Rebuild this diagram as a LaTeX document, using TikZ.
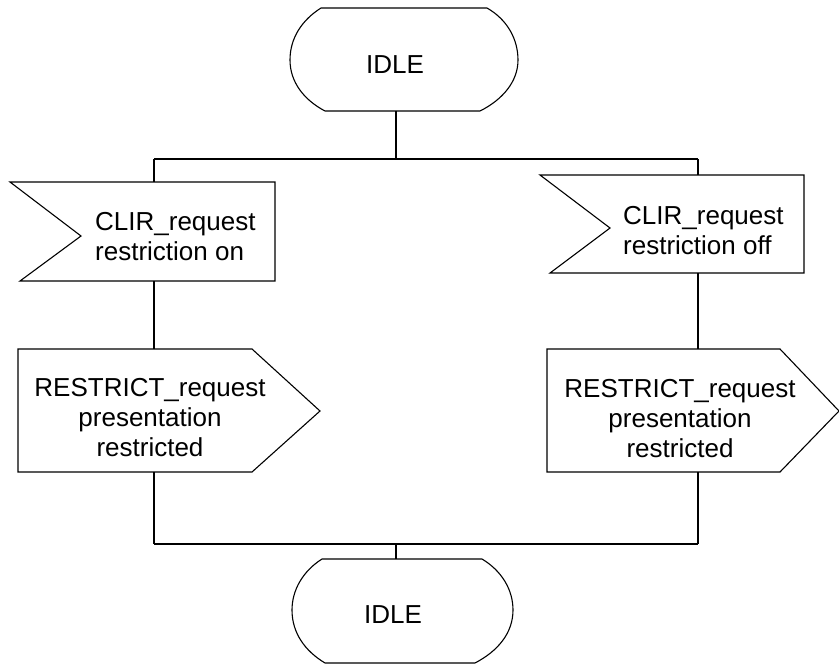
\documentclass[tikz,border=0pt]{standalone}
\usepackage{fontspec}
\setmainfont{Liberation Sans}
\begin{document}
\begin{tikzpicture}[x=1pt,y=-1pt,
    outline/.style={draw=black,line width=1.1pt,line join=miter},
    wire/.style={draw=black,line width=1.1pt},
    lbl/.style={inner sep=0pt,font=\fontsize{26}{30}\selectfont}]
\useasboundingbox (0,0) rectangle (839,664);

% ---- state symbols ----
\draw[outline] (321,8) -- (487,8)
   .. controls (508,20) and (518,40) .. (518,60)
   .. controls (518,82) and (502,100) .. (480,111)
   -- (325,111)
   .. controls (304,100) and (290,82) .. (290,60)
   .. controls (290,38) and (302,20) .. (321,8) -- cycle;
\node[lbl] (idleA) at (395,65) {IDLE};

\draw[outline] (322,559) -- (482,559)
   .. controls (502,571) and (513,590) .. (513,610)
   .. controls (513,633) and (498,651) .. (475,663)
   -- (325,663)
   .. controls (305,651) and (292,633) .. (292,610)
   .. controls (292,590) and (303,571) .. (322,559) -- cycle;
\node[lbl] (idleB) at (393,615) {IDLE};

% ---- input signals ----
\draw[outline] (10,182) -- (275,182) -- (275,281) -- (20,281) -- (81,236) -- cycle;
\node[lbl,anchor=west,align=left] (inOn) at (95,237) {CLIR\_request\\restriction on};

\draw[outline] (540,175) -- (804,175) -- (804,273) -- (550,273) -- (610,228) -- cycle;
\node[lbl,anchor=west,align=left] (inOff) at (623,231) {CLIR\_request\\restriction off};

% ---- output signals ----
\draw[outline] (18,349) -- (252,349) -- (320,411) -- (252,472) -- (18,472) -- cycle;
\node[lbl,align=center] (outL) at (150,418) {RESTRICT\_request\\presentation\\restricted};

\draw[outline] (547,349) -- (780,349) -- (839,411) -- (780,472) -- (547,472) -- cycle;
\node[lbl,align=center] (outR) at (680,419) {RESTRICT\_request\\presentation\\restricted};

% ---- connection points ----
\coordinate (idleAs) at (396,111);
\coordinate (splitC) at (396,159);
\coordinate (splitL) at (154,159);
\coordinate (splitR) at (698,159);
\coordinate (inOnN)  at (154,182);
\coordinate (inOnS)  at (154,281);
\coordinate (inOffN) at (698,175);
\coordinate (inOffS) at (698,273);
\coordinate (outLN)  at (154,349);
\coordinate (outLS)  at (154,472);
\coordinate (outRN)  at (698,349);
\coordinate (outRS)  at (698,472);
\coordinate (joinL)  at (154,544);
\coordinate (joinR)  at (698,544);
\coordinate (joinC)  at (396,544);
\coordinate (idleBn) at (396,559);

% ---- flow lines ----
\draw[wire] (idleAs) -- (splitC);
\draw[wire] (splitL) -- (splitR);
\draw[wire] (splitL) -- (inOnN);
\draw[wire] (splitR) -- (inOffN);
\draw[wire] (inOnS) -- (outLN);
\draw[wire] (inOffS) -- (outRN);
\draw[wire] (outLS) -- (joinL);
\draw[wire] (outRS) -- (joinR);
\draw[wire] (joinL) -- (joinR);
\draw[wire] (joinC) -- (idleBn);
\end{tikzpicture}
\end{document}
